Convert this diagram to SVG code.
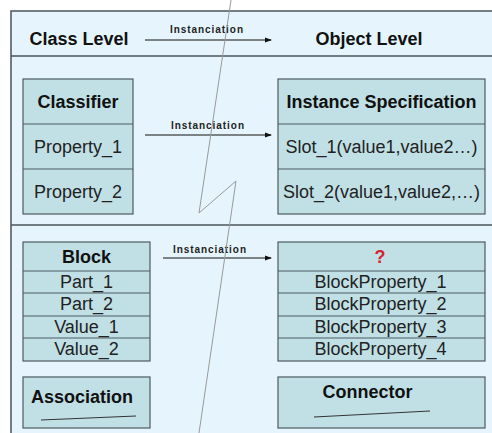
<svg xmlns="http://www.w3.org/2000/svg" width="492" height="433" viewBox="0 0 492 433">
<defs>
<marker id="ah" markerWidth="7" markerHeight="6" refX="6" refY="3" orient="auto" markerUnits="userSpaceOnUse">
<path d="M0,0.5 L7,3 L0,5.5 Z" fill="#111"/>
</marker>
<style>
.bg{fill:#e6f5fd;stroke:#4a5459;stroke-width:1.5}
.sep{stroke:#4a5459;stroke-width:1.5;fill:none}
.box{fill:#c0e0e6;stroke:#4d5a60;stroke-width:1.2}
.div{stroke:#4d5a60;stroke-width:1.2}
.hd{font-family:"Liberation Sans",Arial,sans-serif;font-weight:bold;font-size:18px;fill:#111}
.tx{font-family:"Liberation Sans",Arial,sans-serif;font-size:18px;fill:#222}
.lb{font-family:"Liberation Sans",Arial,sans-serif;font-size:10px;font-weight:bold;fill:#222}
.ar{stroke:#111;stroke-width:1;fill:none}
.zz{stroke:#999;stroke-width:1;fill:none}
.ul{stroke:#333;stroke-width:1;fill:none}
</style>
</defs>
<rect width="492" height="433" fill="#ffffff"/>
<rect class="bg" x="11" y="11" width="500" height="440"/>
<line class="sep" x1="11" y1="56" x2="492" y2="56"/>
<line class="sep" x1="11" y1="225" x2="492" y2="225"/>
<g id="class-level"><text class="hd" x="79" y="45" text-anchor="middle">Class Level</text></g>
<g id="object-level"><text class="hd" x="369" y="45" text-anchor="middle">Object Level</text></g>
<g id="classifier">
<rect class="box" x="23" y="79" width="110" height="135"/>
<line class="div" x1="23" y1="124" x2="133" y2="124"/>
<line class="div" x1="23" y1="169" x2="133" y2="169"/>
<text class="hd" x="78" y="108" text-anchor="middle">Classifier</text>
<text class="tx" x="78" y="153" text-anchor="middle">Property_1</text>
<text class="tx" x="78" y="198" text-anchor="middle">Property_2</text>
</g>
<g id="instance-specification">
<rect class="box" x="278" y="79" width="207" height="135"/>
<line class="div" x1="278" y1="124" x2="485" y2="124"/>
<line class="div" x1="278" y1="169" x2="485" y2="169"/>
<text class="hd" x="381.5" y="108" text-anchor="middle">Instance Specification</text>
<text class="tx" x="381.5" y="153" text-anchor="middle">Slot_1(value1,value2…)</text>
<text class="tx" x="381.5" y="198" text-anchor="middle">Slot_2(value1,value2,…)</text>
</g>
<g id="block">
<rect class="box" x="23" y="242" width="127" height="119"/>
<line class="div" x1="23" y1="271" x2="150" y2="271"/>
<line class="div" x1="23" y1="293" x2="150" y2="293"/>
<line class="div" x1="23" y1="316" x2="150" y2="316"/>
<line class="div" x1="23" y1="338" x2="150" y2="338"/>
<text class="hd" x="86.5" y="263" text-anchor="middle">Block</text>
<text class="tx" x="86.5" y="288" text-anchor="middle">Part_1</text>
<text class="tx" x="86.5" y="310" text-anchor="middle">Part_2</text>
<text class="tx" x="86.5" y="333" text-anchor="middle">Value_1</text>
<text class="tx" x="86.5" y="355" text-anchor="middle">Value_2</text>
</g>
<g id="block-instance">
<rect class="box" x="278" y="242" width="207" height="119"/>
<line class="div" x1="278" y1="271" x2="485" y2="271"/>
<line class="div" x1="278" y1="293" x2="485" y2="293"/>
<line class="div" x1="278" y1="316" x2="485" y2="316"/>
<line class="div" x1="278" y1="338" x2="485" y2="338"/>
<text class="hd" x="380" y="263" text-anchor="middle" fill="#d9232e" style="fill:#d9232e">?</text>
<text class="tx" x="380.5" y="288" text-anchor="middle">BlockProperty_1</text>
<text class="tx" x="380.5" y="310" text-anchor="middle">BlockProperty_2</text>
<text class="tx" x="380.5" y="333" text-anchor="middle">BlockProperty_3</text>
<text class="tx" x="380.5" y="355" text-anchor="middle">BlockProperty_4</text>
</g>
<g id="association">
<rect class="box" x="23" y="377" width="127" height="51"/>
<text class="hd" x="82" y="403" text-anchor="middle">Association</text>
<line class="ul" x1="41" y1="420" x2="136" y2="416"/>
</g>
<g id="connector">
<rect class="box" x="278" y="377" width="207" height="51"/>
<text class="hd" x="367.5" y="398" text-anchor="middle">Connector</text>
<line class="ul" x1="314" y1="417" x2="430" y2="411"/>
</g>
<g id="connectors">
<line class="ar" x1="145" y1="40" x2="271" y2="40" marker-end="url(#ah)"/>
<text class="lb" x="170" y="33" textLength="73" lengthAdjust="spacing">Instanciation</text>
<line class="ar" x1="145" y1="135" x2="271" y2="135" marker-end="url(#ah)"/>
<text class="lb" x="171" y="129" textLength="73" lengthAdjust="spacing">Instanciation</text>
<line class="ar" x1="163" y1="258" x2="271" y2="258" marker-end="url(#ah)"/>
<text class="lb" x="173" y="253" textLength="73" lengthAdjust="spacing">Instanciation</text>
</g>
<polyline class="zz" points="231,0 199,213 236,181 199,433"/>
</svg>
